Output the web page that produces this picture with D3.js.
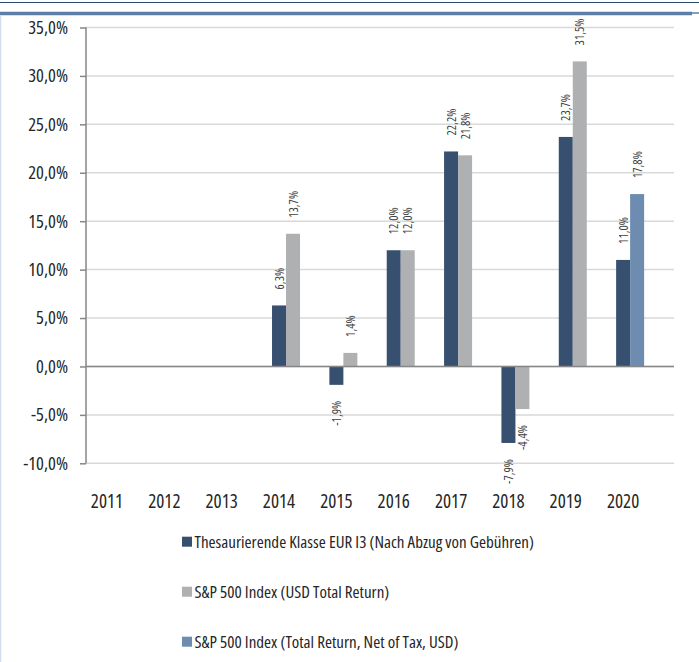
<!DOCTYPE html>
<html>
<head>
<meta charset="utf-8">
<script src="https://cdn.jsdelivr.net/npm/d3@7"></script>
<style>
  body { margin: 0; background: #fff; }
  svg { display: block; }
  text { font-family: "Open Sans", "DejaVu Sans Condensed", sans-serif; font-stretch: 75%; font-weight: 400; }
</style>
</head>
<body>
<div id="chart"></div>
<script>
// chart data
let years = ['2011', '2012', '2013', '2014', '2015', '2016', '2017', '2018', '2019', '2020'];
let fundValues = [null, null, null, 6.3, -1.9, 12.0, 22.2, -7.9, 23.7, 11.0];
let indexValues = [null, null, null, 13.7, 1.4, 12.0, 21.8, -4.4, 31.5, null];
let netIndexValues = [null, null, null, null, null, null, null, null, null, 17.8];
let yTicks = [-10, -5, 0, 5, 10, 15, 20, 25, 30, 35];
let seriesNames = [
  'Thesaurierende Klasse EUR I3 (Nach Abzug von Gebühren)',
  'S&P 500 Index (USD Total Return)',
  'S&P 500 Index (Total Return, Net of Tax, USD)'
];
let seriesColors = ['#37506f', '#afb0b2', '#6d8cb0'];

let width = 699;
let height = 662;
let barWidth = 14;

// German number format, plain hyphen for negatives
let fmt = v => v.toFixed(1).replace('.', ',') + '%';

let svg = d3.select('#chart')
  .append('svg')
  .attr('width', width)
  .attr('height', height);

// frame lines
svg.append('line')
  .attr('x1', 0).attr('x2', width)
  .attr('y1', 2.5).attr('y2', 2.5)
  .attr('stroke', '#2b4a70').attr('stroke-width', 1.2);
svg.append('line')
  .attr('x1', 0).attr('x2', 692)
  .attr('y1', 13.5).attr('y2', 13.5)
  .attr('stroke', '#5d7ea6').attr('stroke-width', 3.5);
svg.append('line')
  .attr('x1', 692).attr('x2', width)
  .attr('y1', 13).attr('y2', 13)
  .attr('stroke', '#5d7ea6').attr('stroke-width', 1.5);
svg.append('line')
  .attr('x1', 0.5).attr('x2', 0.5)
  .attr('y1', 15).attr('y2', height)
  .attr('stroke', '#d3deea').attr('stroke-width', 1.5);

let plotLeft = 86;
let plotRight = 674;

let x = d3.scaleBand()
  .domain(years)
  .range([78.3, 651.8]);

let y = d3.scaleLinear()
  .domain([-10, 35])
  .range([463.3, 27.5]);

// gridlines
svg.append('g')
  .selectAll('line')
  .data(yTicks)
  .enter().append('line')
  .attr('x1', plotLeft)
  .attr('x2', plotRight)
  .attr('y1', d => y(d))
  .attr('y2', d => y(d))
  .attr('stroke', '#d9d9d9')
  .attr('stroke-width', 1.5);

// y axis
let yAxis = svg.append('g')
  .attr('transform', `translate(${plotLeft},0)`)
  .call(d3.axisLeft(y).tickValues(yTicks).tickFormat(fmt).tickSize(6).tickPadding(12));
yAxis.select('.domain').remove();
yAxis.selectAll('.tick line').attr('stroke', '#868686').attr('stroke-width', 1.5);
yAxis.selectAll('.tick text')
  .attr('fill', '#262626')
  .style('font-size', '18.5px');

// bars: fund bar sits on the band centre, index bars to its right
let bars = [
  { values: fundValues, offset: 0, color: seriesColors[0] },
  { values: indexValues, offset: barWidth, color: seriesColors[1] },
  { values: netIndexValues, offset: barWidth, color: seriesColors[2] }
];

bars.forEach(s => {
  let pts = years.map((yr, i) => ({ year: yr, value: s.values[i] }))
    .filter(d => d.value !== null);
  let cx = d => x(d.year) + x.bandwidth() / 2 + s.offset;

  svg.append('g')
    .selectAll('rect')
    .data(pts)
    .enter().append('rect')
    .attr('x', d => cx(d) - barWidth / 2)
    .attr('width', barWidth)
    .attr('y', d => y(Math.max(0, d.value)))
    .attr('height', d => Math.abs(y(d.value) - y(0)))
    .attr('fill', s.color);

  svg.append('g')
    .selectAll('text')
    .data(pts)
    .enter().append('text')
    .attr('transform', d => {
      let ly = d.value >= 0 ? y(d.value) - 16 : y(d.value) + 16;
      return `translate(${cx(d) + 4.5},${ly}) rotate(-90)`;
    })
    .attr('text-anchor', d => d.value >= 0 ? 'start' : 'end')
    .attr('fill', '#404040')
    .style('font-size', '12.5px')
    .text(d => fmt(d.value));
});

// zero line and y axis line
svg.append('line')
  .attr('x1', plotLeft).attr('x2', plotRight)
  .attr('y1', y(0)).attr('y2', y(0))
  .attr('stroke', '#868686').attr('stroke-width', 1.5);
svg.append('line')
  .attr('x1', plotLeft).attr('x2', plotLeft)
  .attr('y1', y(35)).attr('y2', y(-10))
  .attr('stroke', '#868686').attr('stroke-width', 1.5);

// x labels
svg.append('g')
  .selectAll('text')
  .data(years)
  .enter().append('text')
  .attr('x', d => x(d) + x.bandwidth() / 2)
  .attr('y', 508)
  .attr('text-anchor', 'middle')
  .attr('fill', '#262626')
  .style('font-size', '19px')
  .text(d => d);

// legend
let legend = svg.append('g')
  .selectAll('g')
  .data(seriesNames)
  .enter().append('g')
  .attr('transform', (d, i) => `translate(182,${541.7 + i * 50})`);

legend.append('rect')
  .attr('x', 0).attr('y', -5)
  .attr('width', 10).attr('height', 10)
  .attr('fill', (d, i) => seriesColors[i]);

legend.append('text')
  .attr('x', 12.5)
  .attr('y', 6)
  .attr('fill', '#262626')
  .style('font-size', '17px')
  .text(d => d);
</script>
</body>
</html>
